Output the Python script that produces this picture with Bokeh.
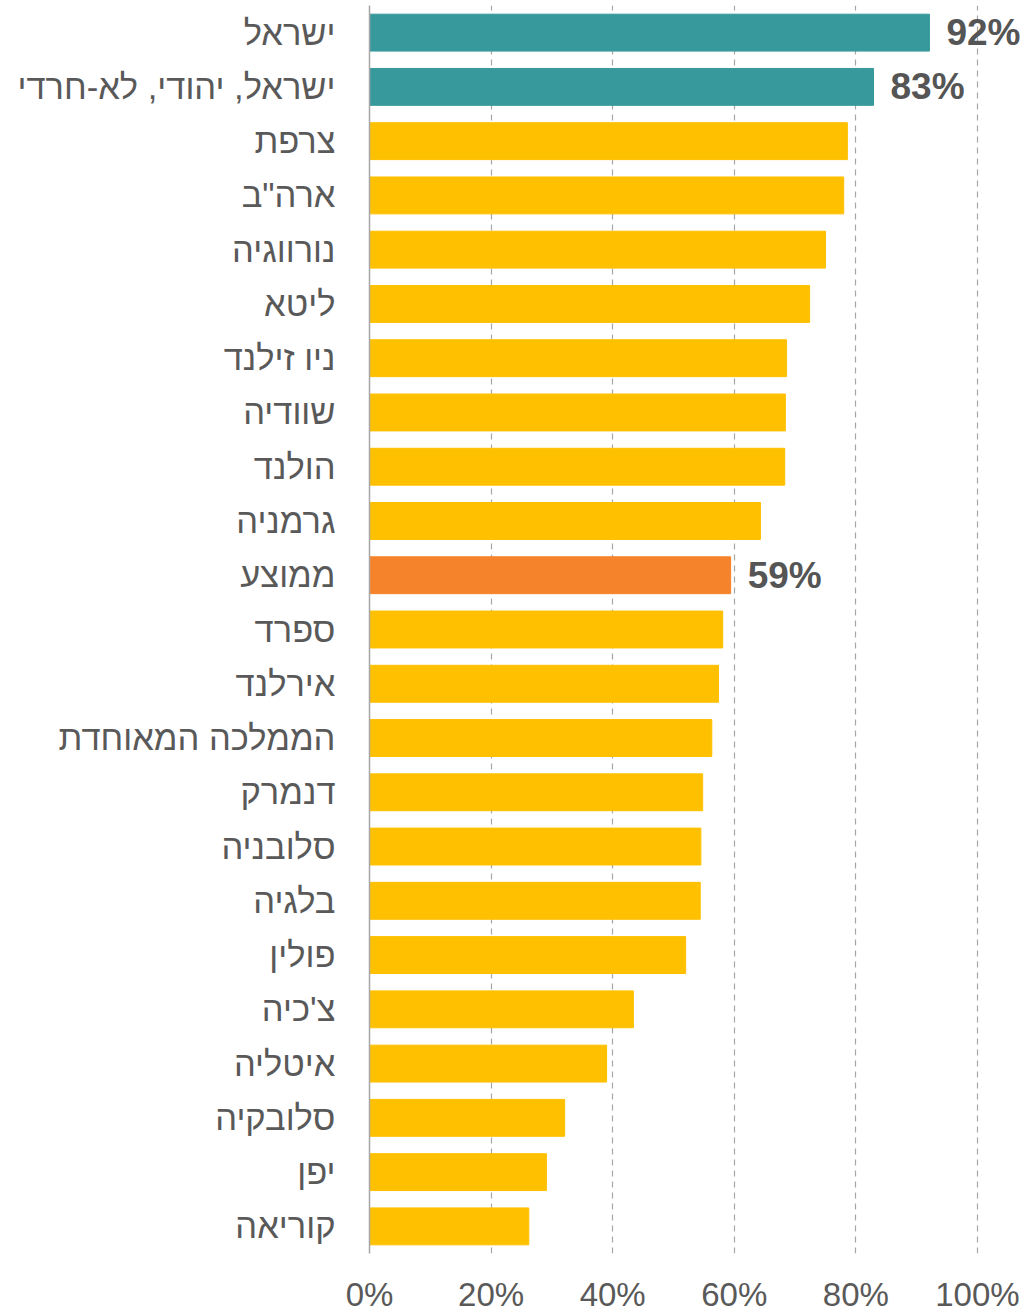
from bokeh.plotting import figure
from bokeh.models import ColumnDataSource, FactorRange, Range1d, FixedTicker, CustomJSTickFormatter
from bokeh.core.properties import value
from bokeh.embed import file_html
from bokeh.resources import INLINE

countries = ["ישראל", "ישראל, יהודי, לא-חרדי", "צרפת", "ארה\"ב", "נורווגיה", "ליטא",
             "ניו זילנד", "שוודיה", "הולנד", "גרמניה", "ממוצע", "ספרד", "אירלנד",
             "הממלכה המאוחדת", "דנמרק", "סלובניה", "בלגיה", "פולין", "צ'כיה",
             "איטליה", "סלובקיה", "יפן", "קוריאה"]
values = [92.1, 82.9, 78.6, 78.0, 75.0, 72.4, 68.6, 68.4, 68.3, 64.3, 59.4, 58.1, 57.4,
          56.3, 54.8, 54.5, 54.4, 52.0, 43.4, 39.0, 32.1, 29.1, 26.2]
groups = ["israel", "israel"] + ["country"] * 8 + ["average"] + ["country"] * 12
show_label = [True, True] + [False] * 8 + [True] + [False] * 12
x_ticks = [0, 20, 40, 60, 80, 100]

palette = {"israel": "#38999C", "country": "#FFC000", "average": "#F5832B"}
colors = [palette[g] for g in groups]
labels = [f"{round(v)}%" if s else "" for v, s in zip(values, show_label)]

src = ColumnDataSource(dict(country=countries, value=values, color=colors, label=labels))

p = figure(width=1025, height=1315, output_backend="svg", toolbar_location=None,
           y_range=FactorRange(factors=list(reversed(countries))),
           x_range=Range1d(0, 107.9),
           min_border_left=369, min_border_right=0, min_border_top=5, min_border_bottom=40)
p.outline_line_color = None
p.background_fill_color = "white"

p.hbar(y="country", right="value", left=0, height=0.68, color="color", source=src)
p.text(x="value", y="country", text="label", source=src, x_offset=17,
       text_baseline="middle", text_align="left",
       text_font=value("Liberation Sans"), text_font_style="bold",
       text_font_size="37px", text_color="#555555")

p.xaxis.ticker = FixedTicker(ticks=x_ticks)
p.xaxis.formatter = CustomJSTickFormatter(code="return tick + '%';")
p.xaxis.axis_line_color = None
p.xaxis.major_tick_line_color = None
p.xaxis.minor_tick_line_color = None
p.xaxis.major_label_text_font = "Liberation Sans"
p.xaxis.major_label_text_font_size = "33px"
p.xaxis.major_label_text_color = "#595959"
p.xaxis.major_label_standoff = 16

p.yaxis.axis_line_color = "#A6A6A6"
p.yaxis.axis_line_width = 1.5
p.yaxis.major_tick_line_color = None
p.yaxis.minor_tick_line_color = None
p.yaxis.major_label_text_font = "Liberation Sans"
p.yaxis.major_label_text_font_size = "34.5px"
p.yaxis.major_label_text_color = "#595959"
p.yaxis.major_label_standoff = 28

p.xgrid.ticker = FixedTicker(ticks=x_ticks[1:])
p.xgrid.grid_line_color = "#A6A6A6"
p.xgrid.grid_line_dash = "6 5"
p.xgrid.grid_line_width = 1.2
p.ygrid.grid_line_color = None

open("out.html", "w").write(file_html(p, INLINE))
